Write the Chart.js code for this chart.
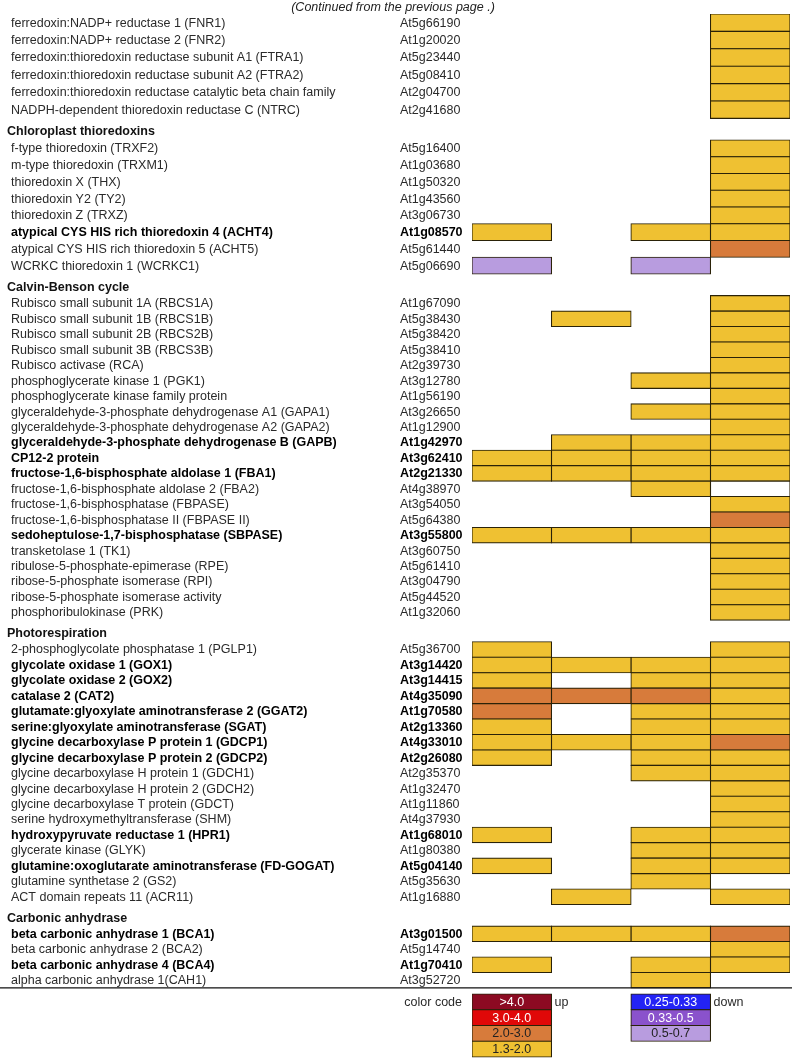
<!DOCTYPE html>
<html><head><meta charset="utf-8">
<script src="https://cdn.jsdelivr.net/npm/chart.js@4.4.1/dist/chart.umd.min.js"></script>
<style>html,body{margin:0;padding:0;background:#fff;}#wrap{width:792px;height:1058px;}</style>
</head><body><div id="wrap"><canvas id="c" width="792" height="1058"></canvas></div>
<script>
// ---------------- DATA ----------------
const pageNote = '(Continued from the previous page .)';
const sectionTitles = ['', 'Chloroplast thioredoxins', 'Calvin-Benson cycle', 'Photorespiration', 'Carbonic anhydrase'];
const sectionSizes = [6, 8, 21, 17, 4];
const geneNames = [
  'ferredoxin:NADP+ reductase 1 (FNR1)','ferredoxin:NADP+ reductase 2 (FNR2)',
  'ferredoxin:thioredoxin reductase subunit A1 (FTRA1)','ferredoxin:thioredoxin reductase subunit A2 (FTRA2)',
  'ferredoxin:thioredoxin reductase catalytic beta chain family','NADPH-dependent thioredoxin reductase C (NTRC)',
  'f-type thioredoxin (TRXF2)','m-type thioredoxin (TRXM1)','thioredoxin X (THX)','thioredoxin Y2 (TY2)',
  'thioredoxin Z (TRXZ)','atypical CYS HIS rich thioredoxin 4 (ACHT4)','atypical CYS HIS rich thioredoxin 5 (ACHT5)',
  'WCRKC thioredoxin 1 (WCRKC1)',
  'Rubisco small subunit 1A (RBCS1A)','Rubisco small subunit 1B (RBCS1B)','Rubisco small subunit 2B (RBCS2B)',
  'Rubisco small subunit 3B (RBCS3B)','Rubisco activase (RCA)','phosphoglycerate kinase 1 (PGK1)',
  'phosphoglycerate kinase family protein','glyceraldehyde-3-phosphate dehydrogenase A1 (GAPA1)',
  'glyceraldehyde-3-phosphate dehydrogenase A2 (GAPA2)','glyceraldehyde-3-phosphate dehydrogenase B (GAPB)',
  'CP12-2 protein','fructose-1,6-bisphosphate aldolase 1 (FBA1)','fructose-1,6-bisphosphate aldolase 2 (FBA2)',
  'fructose-1,6-bisphosphatase (FBPASE)','fructose-1,6-bisphosphatase II (FBPASE II)',
  'sedoheptulose-1,7-bisphosphatase (SBPASE)','transketolase 1 (TK1)','ribulose-5-phosphate-epimerase (RPE)',
  'ribose-5-phosphate isomerase (RPI)','ribose-5-phosphate isomerase activity','phosphoribulokinase (PRK)',
  '2-phosphoglycolate phosphatase 1 (PGLP1)','glycolate oxidase 1 (GOX1)','glycolate oxidase 2 (GOX2)',
  'catalase 2 (CAT2)','glutamate:glyoxylate aminotransferase 2 (GGAT2)','serine:glyoxylate aminotransferase (SGAT)',
  'glycine decarboxylase P protein 1 (GDCP1)','glycine decarboxylase P protein 2 (GDCP2)',
  'glycine decarboxylase H protein 1 (GDCH1)','glycine decarboxylase H protein 2 (GDCH2)',
  'glycine decarboxylase T protein (GDCT)','serine hydroxymethyltransferase (SHM)',
  'hydroxypyruvate reductase 1 (HPR1)','glycerate kinase (GLYK)',
  'glutamine:oxoglutarate aminotransferase (FD-GOGAT)','glutamine synthetase 2 (GS2)','ACT domain repeats 11 (ACR11)',
  'beta carbonic anhydrase 1 (BCA1)','beta carbonic anhydrase 2 (BCA2)','beta carbonic anhydrase 4 (BCA4)',
  'alpha carbonic anhydrase 1(CAH1)'
];
const geneIds = [
  'At5g66190','At1g20020','At5g23440','At5g08410','At2g04700','At2g41680',
  'At5g16400','At1g03680','At1g50320','At1g43560','At3g06730','At1g08570','At5g61440','At5g06690',
  'At1g67090','At5g38430','At5g38420','At5g38410','At2g39730','At3g12780','At1g56190','At3g26650','At1g12900',
  'At1g42970','At3g62410','At2g21330','At4g38970','At3g54050','At5g64380','At3g55800','At3g60750','At5g61410',
  'At3g04790','At5g44520','At1g32060',
  'At5g36700','At3g14420','At3g14415','At4g35090','At1g70580','At2g13360','At4g33010','At2g26080','At2g35370',
  'At1g32470','At1g11860','At4g37930','At1g68010','At1g80380','At5g04140','At5g35630','At1g16880',
  'At3g01500','At5g14740','At1g70410','At3g52720'
];
const boldIds = ['At1g08570','At1g42970','At3g62410','At2g21330','At3g55800','At3g14420','At3g14415','At4g35090',
  'At1g70580','At2g13360','At4g33010','At2g26080','At1g68010','At5g04140','At3g01500','At1g70410'];

// fold-change classes per condition column (4 columns, unlabeled on this page)
const columnKeys = ['A', 'B', 'C', 'D'];
const _ = null, Y = '1.3-2.0', O = '2.0-3.0', L = '0.5-0.7', E = 'outline';
const condA = [
  _,_,_,_,_,_,
  _,_,_,_,_,Y,_,L,
  _,_,_,_,_,_,_,_,_,_,Y,Y,_,_,_,Y,_,_,_,_,_,
  Y,Y,Y,O,O,Y,Y,Y,_,_,_,_,Y,_,Y,_,_,
  Y,_,Y,_
];
const condB = [
  _,_,_,_,_,_,
  _,_,_,_,_,_,_,_,
  _,Y,_,_,_,_,_,_,_,Y,Y,Y,_,_,_,Y,_,_,_,_,_,
  _,Y,_,O,_,_,Y,_,_,_,_,_,_,_,_,_,Y,
  Y,_,_,_
];
const condC = [
  _,_,_,_,_,_,
  _,_,_,_,_,Y,_,L,
  _,_,_,_,_,Y,_,Y,_,Y,Y,Y,Y,_,_,Y,_,_,_,_,_,
  _,Y,Y,O,Y,Y,Y,Y,Y,_,_,_,Y,Y,Y,Y,_,
  Y,_,Y,Y
];
const condD = [
  Y,Y,Y,Y,Y,Y,
  Y,Y,Y,Y,Y,Y,O,_,
  Y,Y,Y,Y,Y,Y,Y,Y,Y,Y,Y,Y,E,Y,O,Y,Y,Y,Y,Y,Y,
  Y,Y,Y,Y,Y,Y,O,Y,Y,Y,Y,Y,Y,Y,Y,_,Y,
  O,Y,Y,_
];
const conditions = [condA, condB, condC, condD];

const legendTitle = 'color code';
const upClasses = ['>4.0','3.0-4.0','2.0-3.0','1.3-2.0'];
const downClasses = ['0.25-0.33','0.33-0.5','0.5-0.7'];
const upLabel = 'up', downLabel = 'down';

// ---------------- STYLES ----------------
const classColor = {
  '>4.0':'#8C0A22','3.0-4.0':'#E00808','2.0-3.0':'#D77B3B','1.3-2.0':'#EFC132',
  '0.25-0.33':'#2323F5','0.33-0.5':'#8A52CC','0.5-0.7':'#B89CDF','outline':'#FFFFFF'
};
const whiteText = ['>4.0','3.0-4.0','0.25-0.33','0.33-0.5'];
const FONT = "'Liberation Sans', Arial, Helvetica, sans-serif";
const FS = 12.5;
const EDGE = '#2a2208';
const TXT = '#2a2a2a';

// ---------------- LAYOUT (in row units) ----------------
const sectionRowScale = [1.126, 1.084, 1, 1, 1];
const HDR_GAP = 1.4, HDR_LIFT = 0.55, LEG_GAP = 0.39, LEG_ROW = 1.02, BOTTOM_PAD = 0.065;
let u = 0; const rowTop = [], rowBot = [], headPos = [], headText = [];
sectionSizes.forEach((n, s) => {
  if (sectionTitles[s]) { u += HDR_GAP; headPos.push(u - HDR_LIFT); headText.push(sectionTitles[s]); }
  for (let k = 0; k < n; k++) { rowTop.push(u); u += sectionRowScale[s]; rowBot.push(u); }
});
const dataEnd = u;
const legTop = upClasses.map((c, k) => dataEnd + LEG_GAP + k * LEG_ROW);
const yMax = dataEnd + LEG_GAP + upClasses.length * LEG_ROW + BOTTOM_PAD;

// ---------------- DATASETS ----------------
const barStyle = {borderColor: EDGE, borderWidth: 1.1, borderSkipped: false, inflateAmount: 0.55,
  grouped: false, barPercentage: 1, categoryPercentage: 1};
const datasets = conditions.map((col, c) => {
  const pts = [], bg = [];
  col.forEach((cls, i) => {
    if (cls) { pts.push({x: columnKeys[c], y: [rowTop[i], rowBot[i]]}); bg.push(classColor[cls]); }
  });
  return Object.assign({label: columnKeys[c], data: pts, backgroundColor: bg}, barStyle);
});
const legPts = [], legBg = [], legLab = [];
upClasses.forEach((cls, k) => {
  legPts.push({x: columnKeys[0], y: [legTop[k], legTop[k] + LEG_ROW]}); legBg.push(classColor[cls]); legLab.push(cls);
});
downClasses.forEach((cls, k) => {
  legPts.push({x: columnKeys[2], y: [legTop[k], legTop[k] + LEG_ROW]}); legBg.push(classColor[cls]); legLab.push(cls);
});
datasets.push(Object.assign({label: 'legend', data: legPts, backgroundColor: legBg}, barStyle));
const LEG_DS = datasets.length - 1;

const isBold = (i) => boldIds.includes(geneIds[i]);

const textLayer = {
  id: 'textLayer',
  afterDatasetsDraw(chart) {
    const ctx = chart.ctx, ys = chart.scales.y, area = chart.chartArea;
    ctx.save();
    // page note
    ctx.textBaseline = 'middle'; ctx.textAlign = 'center';
    ctx.font = 'italic ' + FS + 'px ' + FONT; ctx.fillStyle = '#222';
    ctx.fillText(pageNote, chart.width / 2 - 3, area.top / 2 + 0.5);
    // separator line under the table
    const yl = ys.getPixelForValue(dataEnd);
    ctx.strokeStyle = '#111'; ctx.lineWidth = 1.3;
    ctx.beginPath(); ctx.moveTo(0, yl); ctx.lineTo(chart.width, yl); ctx.stroke();

    ctx.textAlign = 'left';
    // section headers
    ctx.font = 'bold ' + FS + 'px ' + FONT; ctx.fillStyle = '#111';
    headText.forEach((t, k) => ctx.fillText(t, 7, ys.getPixelForValue(headPos[k]) + 0.5));
    // gene names and ids
    const idX = area.left - 72;
    geneNames.forEach((t, i) => {
      const b = isBold(i);
      ctx.font = (b ? 'bold ' : '') + FS + 'px ' + FONT;
      ctx.fillStyle = b ? '#000' : TXT;
      const y = ys.getPixelForValue((rowTop[i] + rowBot[i]) / 2) + 0.5;
      ctx.fillText(t, 11, y);
      ctx.fillText(geneIds[i], idX, y);
    });
    // legend labels
    ctx.font = FS + 'px ' + FONT;
    const meta = chart.getDatasetMeta(LEG_DS);
    ctx.textAlign = 'center';
    meta.data.forEach((el, i) => {
      const p = el.getProps(['x', 'y', 'base'], true);
      ctx.fillStyle = whiteText.includes(legLab[i]) ? '#fff' : '#222';
      ctx.fillText(legLab[i], p.x, (p.y + p.base) / 2 + 0.5);
    });
    ctx.fillStyle = TXT;
    const e0 = meta.data[0].getProps(['x', 'y', 'base', 'width'], true);
    const eD = meta.data[upClasses.length].getProps(['x', 'width'], true);
    const y0 = (e0.y + e0.base) / 2 + 0.5;
    ctx.textAlign = 'right'; ctx.fillText(legendTitle, area.left - 10, y0);
    ctx.textAlign = 'left';
    ctx.fillText(upLabel, e0.x + e0.width / 2 + 3, y0);
    ctx.fillText(downLabel, eD.x + eD.width / 2 + 3, y0);
    ctx.restore();
  }
};

new Chart(document.getElementById('c'), {
  type: 'bar',
  data: {labels: columnKeys, datasets: datasets},
  options: {
    indexAxis: 'x', responsive: false, animation: false,
    layout: {padding: {left: 472, right: 2, top: 14, bottom: 0}},
    plugins: {legend: {display: false}, tooltip: {enabled: false}, title: {display: false}},
    scales: {
      x: {type: 'category', display: false, offset: true},
      y: {type: 'linear', display: false, min: 0, max: yMax, reverse: true, grace: 0}
    }
  },
  plugins: [textLayer]
});
</script></body></html>
